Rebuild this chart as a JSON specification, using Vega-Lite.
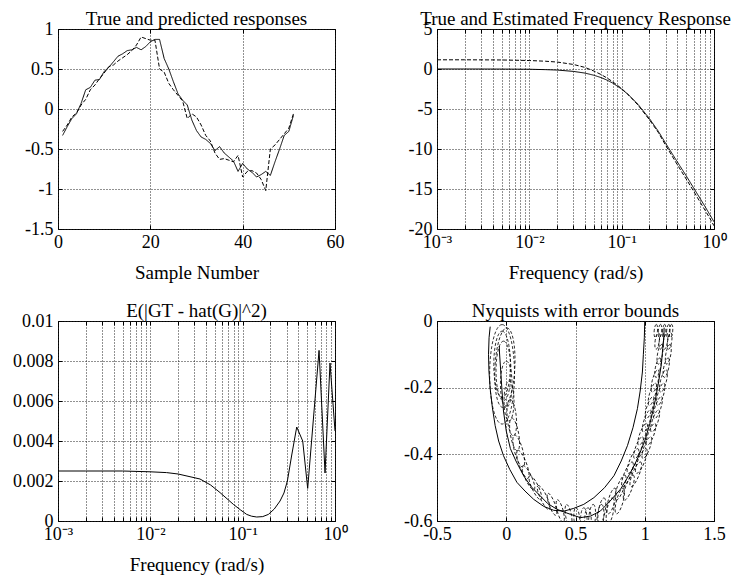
{
  "$schema": "https://vega.github.io/schema/vega-lite/v6.json",
  "background": "white",
  "padding": {"left": 12, "top": 9, "right": 5, "bottom": 5},
  "columns": 2,
  "spacing": {"row": 92, "column": 102},
  "bounds": "flush",
  "config": {
    "font": "Liberation Serif",
    "view": {"stroke": "black", "strokeWidth": 1},
    "axis": {
      "labelFont": "Liberation Serif", "labelFontSize": 18, "labelColor": "black",
      "titleFont": "Liberation Serif", "titleFontSize": 19, "titleFontWeight": "normal", "titleColor": "black",
      "domain": false, "grid": true, "gridColor": "#222", "gridDash": [1, 2], "gridWidth": 1,
      "tickColor": "black", "tickSize": -4, "tickWidth": 1, "labelPadding": 8, "titlePadding": 12,
      "labelFlush": false, "labelOverlap": false
    },
    "axisY": {"labelPadding": 9},
    "title": {"font": "Liberation Serif", "fontSize": 19, "fontWeight": "normal", "color": "black", "offset": -9, "baseline": "alphabetic", "anchor": "middle", "frame": "group"}
  },
  "datasets": {
    "resp": [
      {"n":1,"y":-0.33,"s":"y"},{"n":2,"y":-0.22,"s":"y"},{"n":3,"y":-0.12,"s":"y"},{"n":4,"y":-0.06,"s":"y"},{"n":5,"y":0.07,"s":"y"},
      {"n":6,"y":0.24,"s":"y"},{"n":7,"y":0.27,"s":"y"},{"n":8,"y":0.36,"s":"y"},{"n":9,"y":0.37,"s":"y"},{"n":10,"y":0.47,"s":"y"},
      {"n":11,"y":0.52,"s":"y"},{"n":12,"y":0.59,"s":"y"},{"n":13,"y":0.66,"s":"y"},{"n":14,"y":0.69,"s":"y"},{"n":15,"y":0.73,"s":"y"},
      {"n":16,"y":0.74,"s":"y"},{"n":17,"y":0.77,"s":"y"},{"n":18,"y":0.74,"s":"y"},{"n":19,"y":0.78,"s":"y"},{"n":20,"y":0.84,"s":"y"},
      {"n":21,"y":0.87,"s":"y"},{"n":22,"y":0.87,"s":"y"},{"n":23,"y":0.63,"s":"y"},{"n":24,"y":0.5,"s":"y"},{"n":25,"y":0.34,"s":"y"},
      {"n":26,"y":0.19,"s":"y"},{"n":27,"y":0.11,"s":"y"},{"n":28,"y":0.05,"s":"y"},{"n":29,"y":-0.14,"s":"y"},{"n":30,"y":-0.27,"s":"y"},
      {"n":31,"y":-0.35,"s":"y"},{"n":32,"y":-0.38,"s":"y"},{"n":33,"y":-0.43,"s":"y"},{"n":34,"y":-0.52,"s":"y"},{"n":35,"y":-0.47,"s":"y"},
      {"n":36,"y":-0.55,"s":"y"},{"n":37,"y":-0.6,"s":"y"},{"n":38,"y":-0.65,"s":"y"},{"n":39,"y":-0.78,"s":"y"},{"n":40,"y":-0.68,"s":"y"},
      {"n":41,"y":-0.75,"s":"y"},{"n":42,"y":-0.79,"s":"y"},{"n":43,"y":-0.85,"s":"y"},{"n":44,"y":-0.82,"s":"y"},{"n":45,"y":-0.78,"s":"y"},
      {"n":46,"y":-0.83,"s":"y"},{"n":47,"y":-0.66,"s":"y"},{"n":48,"y":-0.5,"s":"y"},{"n":49,"y":-0.33,"s":"y"},{"n":50,"y":-0.28,"s":"y"},
      {"n":51,"y":-0.08,"s":"y"},
      {"n":1,"y":-0.28,"s":"yhat"},{"n":2,"y":-0.2,"s":"yhat"},{"n":3,"y":-0.1,"s":"yhat"},{"n":4,"y":-0.05,"s":"yhat"},{"n":5,"y":0.05,"s":"yhat"},
      {"n":6,"y":0.12,"s":"yhat"},{"n":7,"y":0.24,"s":"yhat"},{"n":8,"y":0.3,"s":"yhat"},{"n":9,"y":0.38,"s":"yhat"},{"n":10,"y":0.45,"s":"yhat"},
      {"n":11,"y":0.53,"s":"yhat"},{"n":12,"y":0.55,"s":"yhat"},{"n":13,"y":0.6,"s":"yhat"},{"n":14,"y":0.64,"s":"yhat"},{"n":15,"y":0.68,"s":"yhat"},
      {"n":16,"y":0.73,"s":"yhat"},{"n":17,"y":0.8,"s":"yhat"},{"n":18,"y":0.9,"s":"yhat"},{"n":19,"y":0.88,"s":"yhat"},{"n":20,"y":0.86,"s":"yhat"},
      {"n":21,"y":0.86,"s":"yhat"},{"n":22,"y":0.5,"s":"yhat"},{"n":23,"y":0.46,"s":"yhat"},{"n":24,"y":0.32,"s":"yhat"},{"n":25,"y":0.24,"s":"yhat"},
      {"n":26,"y":0.17,"s":"yhat"},{"n":27,"y":0.1,"s":"yhat"},{"n":28,"y":-0.12,"s":"yhat"},{"n":29,"y":-0.06,"s":"yhat"},{"n":30,"y":-0.1,"s":"yhat"},
      {"n":31,"y":-0.2,"s":"yhat"},{"n":32,"y":-0.33,"s":"yhat"},{"n":33,"y":-0.4,"s":"yhat"},{"n":34,"y":-0.55,"s":"yhat"},{"n":35,"y":-0.63,"s":"yhat"},
      {"n":36,"y":-0.62,"s":"yhat"},{"n":37,"y":-0.64,"s":"yhat"},{"n":38,"y":-0.66,"s":"yhat"},{"n":39,"y":-0.58,"s":"yhat"},{"n":40,"y":-0.85,"s":"yhat"},
      {"n":41,"y":-0.78,"s":"yhat"},{"n":42,"y":-0.77,"s":"yhat"},{"n":43,"y":-0.8,"s":"yhat"},{"n":44,"y":-0.88,"s":"yhat"},{"n":45,"y":-1.02,"s":"yhat"},
      {"n":46,"y":-0.5,"s":"yhat"},{"n":47,"y":-0.45,"s":"yhat"},{"n":48,"y":-0.38,"s":"yhat"},{"n":49,"y":-0.31,"s":"yhat"},{"n":50,"y":-0.24,"s":"yhat"},
      {"n":51,"y":-0.06,"s":"yhat"}
    ],
    "freq": [
      {"w":0.001,"db":0,"s":"G"},{"w":0.002,"db":0,"s":"G"},{"w":0.005,"db":-0.01,"s":"G"},{"w":0.01,"db":-0.03,"s":"G"},
      {"w":0.015,"db":-0.08,"s":"G"},{"w":0.02,"db":-0.13,"s":"G"},{"w":0.03,"db":-0.3,"s":"G"},{"w":0.04,"db":-0.51,"s":"G"},
      {"w":0.05,"db":-0.78,"s":"G"},{"w":0.06,"db":-1.08,"s":"G"},{"w":0.07,"db":-1.41,"s":"G"},{"w":0.08,"db":-1.76,"s":"G"},
      {"w":0.1,"db":-2.51,"s":"G"},{"w":0.12,"db":-3.28,"s":"G"},{"w":0.15,"db":-4.41,"s":"G"},{"w":0.2,"db":-6.2,"s":"G"},
      {"w":0.25,"db":-7.8,"s":"G"},{"w":0.3,"db":-9.3,"s":"G"},{"w":0.4,"db":-11.6,"s":"G"},{"w":0.5,"db":-13.35,"s":"G"},
      {"w":0.6,"db":-14.85,"s":"G"},{"w":0.7,"db":-16.1,"s":"G"},{"w":0.8,"db":-17.2,"s":"G"},{"w":0.9,"db":-18.2,"s":"G"},
      {"w":1.0,"db":-19.1,"s":"G"},
      {"w":0.001,"db":1.15,"s":"Ghat"},{"w":0.002,"db":1.15,"s":"Ghat"},{"w":0.005,"db":1.13,"s":"Ghat"},{"w":0.01,"db":1.06,"s":"Ghat"},
      {"w":0.015,"db":0.97,"s":"Ghat"},{"w":0.02,"db":0.87,"s":"Ghat"},{"w":0.03,"db":0.57,"s":"Ghat"},{"w":0.04,"db":0.2,"s":"Ghat"},
      {"w":0.05,"db":-0.25,"s":"Ghat"},{"w":0.06,"db":-0.7,"s":"Ghat"},{"w":0.07,"db":-1.15,"s":"Ghat"},{"w":0.08,"db":-1.6,"s":"Ghat"},
      {"w":0.1,"db":-2.45,"s":"Ghat"},{"w":0.12,"db":-3.3,"s":"Ghat"},{"w":0.15,"db":-4.5,"s":"Ghat"},{"w":0.2,"db":-6.35,"s":"Ghat"},
      {"w":0.25,"db":-7.95,"s":"Ghat"},{"w":0.3,"db":-9.55,"s":"Ghat"},{"w":0.4,"db":-11.95,"s":"Ghat"},{"w":0.5,"db":-13.75,"s":"Ghat"},
      {"w":0.6,"db":-15.25,"s":"Ghat"},{"w":0.7,"db":-16.55,"s":"Ghat"},{"w":0.8,"db":-17.65,"s":"Ghat"},{"w":0.9,"db":-18.65,"s":"Ghat"},
      {"w":1.0,"db":-19.6,"s":"Ghat"}
    ],
    "err": [
      {"w":0.001,"e":0.0025},{"w":0.002,"e":0.0025},{"w":0.005,"e":0.0025},{"w":0.01,"e":0.00246},{"w":0.015,"e":0.00242},
      {"w":0.02,"e":0.00235},{"w":0.0345,"e":0.0021},{"w":0.045,"e":0.0018},{"w":0.0569,"e":0.00142},{"w":0.0794,"e":0.00083},
      {"w":0.095,"e":0.00055},{"w":0.1105,"e":0.00033},{"w":0.125,"e":0.00024},{"w":0.142,"e":0.0002},{"w":0.165,"e":0.00022},
      {"w":0.19,"e":0.00033},{"w":0.22,"e":0.0006},{"w":0.254,"e":0.001},{"w":0.28,"e":0.0014},{"w":0.305,"e":0.002},
      {"w":0.34,"e":0.0033},{"w":0.385,"e":0.0047},{"w":0.447,"e":0.004},{"w":0.506,"e":0.00163},{"w":0.672,"e":0.00853},
      {"w":0.78,"e":0.0024},{"w":0.883,"e":0.0079},{"w":1.0,"e":0.0045}
    ],
    "nyq": [
      {"c":"T","i":1,"x":1.0,"y":0},{"c":"T","i":2,"x":0.997,"y":-0.05},{"c":"T","i":3,"x":0.99,"y":-0.1},{"c":"T","i":4,"x":0.983,"y":-0.153},
      {"c":"T","i":5,"x":0.967,"y":-0.21},{"c":"T","i":6,"x":0.947,"y":-0.263},{"c":"T","i":7,"x":0.915,"y":-0.32},{"c":"T","i":8,"x":0.875,"y":-0.374},
      {"c":"T","i":9,"x":0.83,"y":-0.42},{"c":"T","i":10,"x":0.778,"y":-0.464},{"c":"T","i":11,"x":0.71,"y":-0.5},{"c":"T","i":12,"x":0.633,"y":-0.53},
      {"c":"T","i":13,"x":0.56,"y":-0.55},{"c":"T","i":14,"x":0.488,"y":-0.562},{"c":"T","i":15,"x":0.42,"y":-0.57},{"c":"T","i":16,"x":0.343,"y":-0.568},
      {"c":"T","i":17,"x":0.27,"y":-0.556},{"c":"T","i":18,"x":0.198,"y":-0.535},{"c":"T","i":19,"x":0.135,"y":-0.51},{"c":"T","i":20,"x":0.077,"y":-0.484},
      {"c":"T","i":21,"x":0.025,"y":-0.445},{"c":"T","i":22,"x":-0.02,"y":-0.404},{"c":"T","i":23,"x":-0.055,"y":-0.36},{"c":"T","i":24,"x":-0.08,"y":-0.314},
      {"c":"T","i":25,"x":-0.1,"y":-0.26},{"c":"T","i":26,"x":-0.116,"y":-0.203},{"c":"T","i":27,"x":-0.125,"y":-0.15},{"c":"T","i":28,"x":-0.128,"y":-0.1},
      {"c":"T","i":29,"x":-0.124,"y":-0.05},{"c":"T","i":30,"x":-0.116,"y":-0.017},
      {"c":"E","i":1,"x":1.14,"y":-0.02},{"c":"E","i":2,"x":1.138,"y":-0.05},{"c":"E","i":3,"x":1.13,"y":-0.082},{"c":"E","i":4,"x":1.12,"y":-0.13},
      {"c":"E","i":5,"x":1.1,"y":-0.183},{"c":"E","i":6,"x":1.075,"y":-0.24},{"c":"E","i":7,"x":1.04,"y":-0.304},{"c":"E","i":8,"x":1.0,"y":-0.36},
      {"c":"E","i":9,"x":0.947,"y":-0.414},{"c":"E","i":10,"x":0.89,"y":-0.46},{"c":"E","i":11,"x":0.826,"y":-0.504},{"c":"E","i":12,"x":0.75,"y":-0.54},
      {"c":"E","i":13,"x":0.68,"y":-0.57},{"c":"E","i":14,"x":0.61,"y":-0.585},{"c":"E","i":15,"x":0.536,"y":-0.59},{"c":"E","i":16,"x":0.464,"y":-0.58},
      {"c":"E","i":17,"x":0.41,"y":-0.572},{"c":"E","i":18,"x":0.367,"y":-0.565},{"c":"E","i":19,"x":0.3,"y":-0.548},{"c":"E","i":20,"x":0.246,"y":-0.525},
      {"c":"E","i":21,"x":0.18,"y":-0.497},{"c":"E","i":22,"x":0.125,"y":-0.464},{"c":"E","i":23,"x":0.07,"y":-0.42},{"c":"E","i":24,"x":0.03,"y":-0.383},
      {"c":"E","i":25,"x":0.0,"y":-0.33},{"c":"E","i":26,"x":-0.02,"y":-0.27},{"c":"E","i":27,"x":-0.03,"y":-0.213},{"c":"E","i":28,"x":-0.04,"y":-0.15},
      {"c":"E","i":29,"x":-0.049,"y":-0.093},{"c":"E","i":30,"x":-0.05,"y":-0.075}
    ],
    "ell": [
      {"x":1.08,"y":-0.03,"r":0.02,"a":5},{"x":1.11,"y":-0.03,"r":0.02,"a":5},{"x":1.14,"y":-0.03,"r":0.02,"a":5},{"x":1.17,"y":-0.03,"r":0.02,"a":5},{"x":1.19,"y":-0.03,"r":0.02,"a":5},
      {"x":1.09,"y":-0.06,"r":0.025,"a":8},{"x":1.12,"y":-0.06,"r":0.025,"a":8},{"x":1.15,"y":-0.06,"r":0.025,"a":8},{"x":1.18,"y":-0.06,"r":0.025,"a":8},
      {"x":1.11,"y":-0.1,"r":0.03,"a":10},{"x":1.17,"y":-0.1,"r":0.03,"a":10},
      {"x":1.095,"y":-0.14,"r":0.03,"a":12},{"x":1.155,"y":-0.14,"r":0.03,"a":12},
      {"x":1.075,"y":-0.18,"r":0.035,"a":14},{"x":1.135,"y":-0.18,"r":0.035,"a":14},
      {"x":1.055,"y":-0.22,"r":0.035,"a":16},{"x":1.115,"y":-0.22,"r":0.035,"a":16},
      {"x":1.035,"y":-0.26,"r":0.035,"a":18},{"x":1.095,"y":-0.26,"r":0.035,"a":18},
      {"x":1.015,"y":-0.3,"r":0.035,"a":18},{"x":1.075,"y":-0.3,"r":0.035,"a":18},
      {"x":0.985,"y":-0.34,"r":0.035,"a":20},{"x":1.045,"y":-0.34,"r":0.035,"a":20},
      {"x":0.955,"y":-0.38,"r":0.035,"a":20},{"x":1.015,"y":-0.38,"r":0.035,"a":20},
      {"x":0.915,"y":-0.42,"r":0.04,"a":22},{"x":0.975,"y":-0.42,"r":0.04,"a":22},
      {"x":0.875,"y":-0.46,"r":0.04,"a":22},{"x":0.935,"y":-0.46,"r":0.04,"a":22},
      {"x":0.825,"y":-0.5,"r":0.04,"a":20},{"x":0.885,"y":-0.5,"r":0.04,"a":20},
      {"x":0.76,"y":-0.54,"r":0.04,"a":15},{"x":0.82,"y":-0.54,"r":0.04,"a":15},
      {"x":0.69,"y":-0.57,"r":0.04,"a":10},{"x":0.75,"y":-0.57,"r":0.04,"a":10},
      {"x":0.62,"y":-0.59,"r":0.04,"a":5},{"x":0.68,"y":-0.59,"r":0.04,"a":5},
      {"x":0.56,"y":-0.6,"r":0.04,"a":0},{"x":0.59,"y":-0.6,"r":0.04,"a":0},
      {"x":0.51,"y":-0.595,"r":0.035,"a":-5},{"x":0.45,"y":-0.585,"r":0.035,"a":-10},
      {"x":0.39,"y":-0.57,"r":0.035,"a":-15},{"x":0.33,"y":-0.55,"r":0.035,"a":-20},
      {"x":0.27,"y":-0.53,"r":0.04,"a":-25},{"x":0.21,"y":-0.5,"r":0.04,"a":-25},
      {"x":0.16,"y":-0.47,"r":0.04,"a":-25},{"x":0.12,"y":-0.43,"r":0.045,"a":-20},
      {"x":0.09,"y":-0.39,"r":0.05,"a":-15},{"x":0.06,"y":-0.34,"r":0.05,"a":-10},
      {"x":0.04,"y":-0.29,"r":0.055,"a":-5},{"x":0.02,"y":-0.24,"r":0.06,"a":0},
      {"x":0.0,"y":-0.19,"r":0.07,"a":0},{"x":-0.02,"y":-0.15,"r":0.09,"a":0},
      {"x":-0.03,"y":-0.13,"r":0.1,"a":0},{"x":-0.03,"y":-0.16,"r":0.15,"a":0},
      {"x":-0.01,"y":-0.14,"r":0.12,"a":3}
    ]
  },
  "concat": [
    {
      "width": 277, "height": 200,
      "title": {"text": "True and predicted responses"},
      "data": {"name": "resp"},
      "layer": [
        {
          "mark": {"type": "line", "color": "black", "strokeWidth": 1, "clip": true},
          "encoding": {
            "x": {"field": "n", "type": "quantitative", "scale": {"domain": [0, 60], "nice": false, "zero": false},
                  "axis": {"orient": "bottom", "values": [0, 20, 40, 60], "title": "Sample Number", "labelExpr": "toString(datum.value)"}},
            "y": {"field": "y", "type": "quantitative", "scale": {"domain": [-1.5, 1], "nice": false, "zero": false},
                  "axis": {"orient": "left", "values": [-1.5, -1, -0.5, 0, 0.5, 1], "title": null, "labelExpr": "toString(datum.value)"}},
            "strokeDash": {"field": "s", "type": "nominal", "scale": {"domain": ["y", "yhat"], "range": [[1, 0], [4, 2]]}, "legend": null}
          }
        },
        {
          "mark": {"type": "line", "opacity": 0},
          "encoding": {
            "x": {"field": "n", "type": "quantitative", "axis": {"orient": "top", "values": [0, 20, 40, 60], "labels": false, "grid": false, "title": null}},
            "y": {"field": "y", "type": "quantitative", "axis": {"orient": "right", "values": [-1.5, -1, -0.5, 0, 0.5, 1], "labels": false, "grid": false, "title": null}}
          }
        }
      ],
      "resolve": {"axis": {"x": "independent", "y": "independent"}}
    },
    {
      "width": 277, "height": 200,
      "title": {"text": "True and Estimated Frequency Response"},
      "data": {"name": "freq"},
      "layer": [
        {
          "mark": {"type": "line", "color": "black", "strokeWidth": 1, "clip": true},
          "encoding": {
            "x": {"field": "w", "type": "quantitative", "scale": {"type": "log", "domain": [0.001, 1], "nice": false},
                  "axis": {"orient": "bottom", "title": "Frequency (rad/s)",
                           "values": [0.001,0.002,0.003,0.004,0.005,0.006,0.007,0.008,0.009,0.01,0.02,0.03,0.04,0.05,0.06,0.07,0.08,0.09,0.1,0.2,0.3,0.4,0.5,0.6,0.7,0.8,0.9,1],
                           "labelExpr": "datum.value == 0.001 ? '10⁻³' : datum.value == 0.01 ? '10⁻²' : datum.value == 0.1 ? '10⁻¹' : datum.value == 1 ? '10⁰' : ''"}},
            "y": {"field": "db", "type": "quantitative", "scale": {"domain": [-20, 5], "nice": false, "zero": false},
                  "axis": {"orient": "left", "values": [-20, -15, -10, -5, 0, 5], "title": null, "labelExpr": "toString(datum.value)"}},
            "strokeDash": {"field": "s", "type": "nominal", "scale": {"domain": ["G", "Ghat"], "range": [[1, 0], [4, 2]]}, "legend": null}
          }
        },
        {
          "mark": {"type": "line", "opacity": 0},
          "encoding": {
            "x": {"field": "w", "type": "quantitative", "axis": {"orient": "top", "labels": false, "grid": false, "title": null,
                  "values": [0.001,0.002,0.003,0.004,0.005,0.006,0.007,0.008,0.009,0.01,0.02,0.03,0.04,0.05,0.06,0.07,0.08,0.09,0.1,0.2,0.3,0.4,0.5,0.6,0.7,0.8,0.9,1]}},
            "y": {"field": "db", "type": "quantitative", "axis": {"orient": "right", "values": [-20, -15, -10, -5, 0, 5], "labels": false, "grid": false, "title": null}}
          }
        }
      ],
      "resolve": {"axis": {"x": "independent", "y": "independent"}}
    },
    {
      "width": 277, "height": 200,
      "title": {"text": "E(|GT - hat(G)|^2)"},
      "data": {"name": "err"},
      "layer": [
        {
          "mark": {"type": "line", "color": "black", "strokeWidth": 1, "clip": true},
          "encoding": {
            "x": {"field": "w", "type": "quantitative", "scale": {"type": "log", "domain": [0.001, 1], "nice": false},
                  "axis": {"orient": "bottom", "title": "Frequency (rad/s)",
                           "values": [0.001,0.002,0.003,0.004,0.005,0.006,0.007,0.008,0.009,0.01,0.02,0.03,0.04,0.05,0.06,0.07,0.08,0.09,0.1,0.2,0.3,0.4,0.5,0.6,0.7,0.8,0.9,1],
                           "labelExpr": "datum.value == 0.001 ? '10⁻³' : datum.value == 0.01 ? '10⁻²' : datum.value == 0.1 ? '10⁻¹' : datum.value == 1 ? '10⁰' : ''"}},
            "y": {"field": "e", "type": "quantitative", "scale": {"domain": [0, 0.01], "nice": false},
                  "axis": {"orient": "left", "values": [0, 0.002, 0.004, 0.006, 0.008, 0.01], "title": null, "labelExpr": "toString(datum.value)"}}
          }
        },
        {
          "mark": {"type": "line", "opacity": 0},
          "encoding": {
            "x": {"field": "w", "type": "quantitative", "axis": {"orient": "top", "labels": false, "grid": false, "title": null,
                  "values": [0.001,0.002,0.003,0.004,0.005,0.006,0.007,0.008,0.009,0.01,0.02,0.03,0.04,0.05,0.06,0.07,0.08,0.09,0.1,0.2,0.3,0.4,0.5,0.6,0.7,0.8,0.9,1]}},
            "y": {"field": "e", "type": "quantitative", "axis": {"orient": "right", "values": [0, 0.002, 0.004, 0.006, 0.008, 0.01], "labels": false, "grid": false, "title": null}}
          }
        }
      ],
      "resolve": {"axis": {"x": "independent", "y": "independent"}}
    },
    {
      "width": 277, "height": 200,
      "title": {"text": "Nyquists with error bounds"},
      "layer": [
        {
          "data": {"name": "nyq"},
          "mark": {"type": "line", "color": "black", "strokeWidth": 1, "clip": true},
          "encoding": {
            "x": {"field": "x", "type": "quantitative", "scale": {"domain": [-0.5, 1.5], "nice": false, "zero": false},
                  "axis": {"orient": "bottom", "values": [-0.5, 0, 0.5, 1, 1.5], "title": null, "labelExpr": "toString(datum.value)"}},
            "y": {"field": "y", "type": "quantitative", "scale": {"domain": [-0.6, 0], "nice": false, "zero": false},
                  "axis": {"orient": "left", "values": [-0.6, -0.4, -0.2, 0], "title": null, "labelExpr": "toString(datum.value)"}},
            "detail": {"field": "c", "type": "nominal"},
            "order": {"field": "i", "type": "quantitative"}
          }
        },
        {
          "data": {"name": "ell"},
          "mark": {"type": "point", "filled": false, "stroke": "black", "strokeWidth": 0.8, "strokeDash": [3, 2], "clip": true, "opacity": 1,
                   "shape": "M0,-1C0.138,-1,0.25,-0.552,0.25,0C0.25,0.552,0.138,1,0,1C-0.138,1,-0.25,0.552,-0.25,0C-0.25,-0.552,-0.138,-1,0,-1Z"},
          "encoding": {
            "x": {"field": "x", "type": "quantitative", "axis": null},
            "y": {"field": "y", "type": "quantitative", "axis": null},
            "size": {"field": "r", "type": "quantitative", "scale": {"type": "pow", "exponent": 2, "domain": [0, 0.1], "range": [0, 4401]}, "legend": null},
            "angle": {"field": "a", "type": "quantitative", "scale": null}
          }
        },
        {
          "data": {"name": "nyq"},
          "mark": {"type": "line", "opacity": 0},
          "encoding": {
            "x": {"field": "x", "type": "quantitative", "axis": {"orient": "top", "values": [-0.5, 0, 0.5, 1, 1.5], "labels": false, "grid": false, "title": null}},
            "y": {"field": "y", "type": "quantitative", "axis": {"orient": "right", "values": [-0.6, -0.4, -0.2, 0], "labels": false, "grid": false, "title": null}},
            "detail": {"field": "c", "type": "nominal"}
          }
        }
      ],
      "resolve": {"axis": {"x": "independent", "y": "independent"}}
    }
  ]
}
